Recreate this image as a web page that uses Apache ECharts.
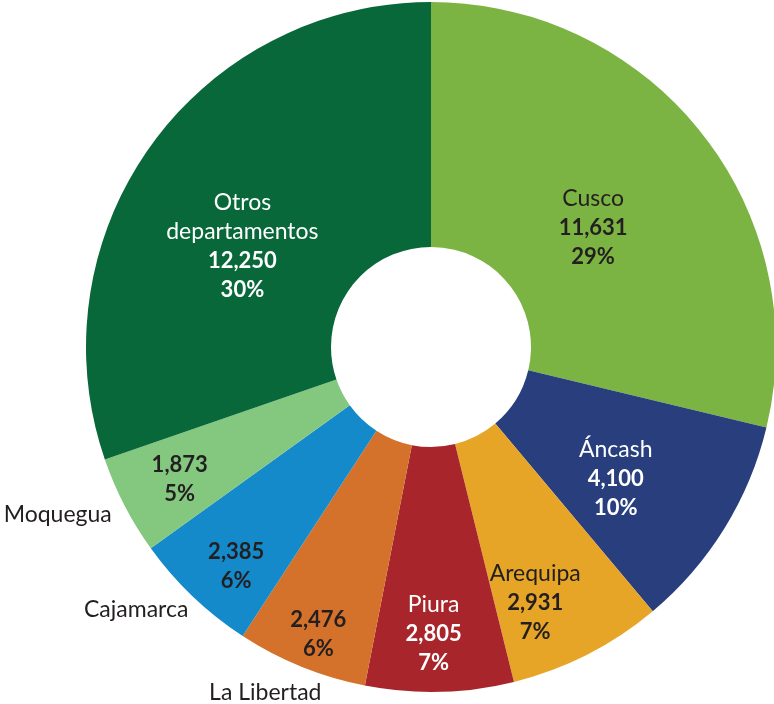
<!DOCTYPE html>
<html>
<head>
<meta charset="utf-8">
<script src="https://cdn.jsdelivr.net/npm/echarts@6/dist/echarts.min.js"></script>
<style>
  html, body { margin: 0; padding: 0; background: #fff; }
  #chart { width: 774px; height: 704px; }
</style>
</head>
<body>
<div id="chart"></div>
<script>
// departamentos y valores (sentido horario desde las 12)
var names = ['Cusco', 'Áncash', 'Arequipa', 'Piura', 'La Libertad', 'Cajamarca', 'Moquegua', 'Otros\ndepartamentos']
var values = [11631, 4100, 2931, 2805, 2476, 2385, 1873, 12250]
var colors = ['#7cb443', '#293f7d', '#e6a526', '#a8262b', '#d4712a', '#148acb', '#84c77f', '#08683a']
// label text colour, and whether the name sits outside the ring
var textColors = ['#231f20', '#ffffff', '#231f20', '#ffffff', '#231f20', '#231f20', '#231f20', '#ffffff']
var nameOutside = [false, false, false, false, true, true, true, false]

// fine tuning of label placement
var labelOffsets = [[-15, 20], [-7, 13], [2, 55], [-3, 61], [-28, 78], [-39, 56], [-51, 29], [-5, 30]]
var nameOffsets = [null, null, null, null, [-81, 137], [-139, 100], [-173, 64], null]

var total = values.reduce((a, b) => a + b, 0)
var fmt = v => v.toLocaleString('en-US')
var FONT = 'Lato, "Open Sans", sans-serif'

var mainData = names.map((name, i) => {
  const pct = Math.round(values[i] / total * 100) + '%'
  const text = nameOutside[i]
    ? '{v|' + fmt(values[i]) + '}\n{v|' + pct + '}'
    : name.split('\n').map(s => '{n|' + s + '}').join('\n') + '\n{v|' + fmt(values[i]) + '}\n{v|' + pct + '}'
  return {
    name, value: values[i],
    itemStyle: { color: colors[i] },
    label: {
      formatter: text,
      offset: labelOffsets[i],
      rich: {
        n: { color: textColors[i], fontSize: 23, fontFamily: FONT, lineHeight: 29 },
        v: { color: textColors[i], fontSize: 22, fontWeight: 'bold', fontFamily: FONT, lineHeight: 29 }
      }
    }
  }
})

var nameData = names.map((name, i) => {
  return {
    name, value: values[i],
    itemStyle: { color: 'transparent' },
    label: {
      show: nameOutside[i],
      formatter: name,
      offset: nameOffsets[i] || [0, 0],
      color: '#231f20', fontSize: 23, fontFamily: FONT
    }
  }
})

var chart = echarts.init(document.getElementById('chart'), null, { renderer: 'canvas' })
chart.setOption({
  animation: false,
  series: [
    {
      type: 'pie', silent: true,
      center: [431, 347], radius: [100, 345],
      startAngle: 90, clockwise: true,
      avoidLabelOverlap: false,
      label: { show: true, position: 'inside', rotate: 0 },
      labelLine: { show: false },
      data: mainData
    },
    {
      type: 'pie', silent: true,
      center: [431, 347], radius: [100, 345],
      startAngle: 90, clockwise: true,
      avoidLabelOverlap: false,
      label: { position: 'inside', rotate: 0 },
      labelLine: { show: false },
      data: nameData
    }
  ]
})
</script>
</body>
</html>
